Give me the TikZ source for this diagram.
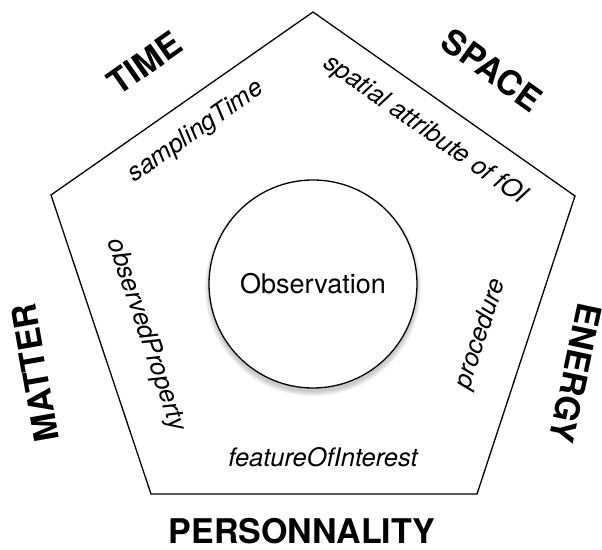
\documentclass[tikz,border=0pt]{standalone}
\usepackage{fontspec}
\setmainfont{TeX Gyre Heros}
\begin{document}
\begin{tikzpicture}[x=1pt,y=1pt,
  edge/.style={draw=black, line width=1.3pt, line join=miter},
  biglabel/.style={font=\fontsize{34}{40}\selectfont\bfseries, inner sep=0pt},
  attr/.style={font=\fontsize{25.5}{30}\selectfont\itshape, inner sep=0pt},
  obsnode/.style={circle, draw=black, line width=1.3pt, fill=white, minimum size=208pt, inner sep=0pt, font=\fontsize{27}{31}\selectfont}]
\useasboundingbox (0,0) rectangle (602,549);
\fill[white] (0,0) rectangle (602,549);
% pentagon
\coordinate (T) at (313,537);
\coordinate (R) at (575,353);
\coordinate (BR) at (477,55);
\coordinate (BL) at (151,55);
\coordinate (L) at (51,354);
\draw[edge] (T) -- (R) -- (BR) -- (BL) -- (L) -- cycle;
% soft shadow of the circle
\foreach \i in {1,...,6}{
  \fill[black, opacity=0.035] (313,261) circle ({103+\i*0.9});
}
\node[obsnode] (obs) at (313,265) {Observation};
% attribute labels
\node[attr, rotate=35] (samp) at (196,417) {samplingTime};
\node[attr, rotate=-35] (spat) at (425,419) {spatial attribute of fOI};
\node[attr, rotate=-71.5] (oprop) at (146,214) {observedProperty};
\node[attr, rotate=71.5] (proc) at (481,215) {procedure};
\node[attr] (foi) at (323,92) {featureOfInterest};
% category labels
\node[biglabel, rotate=35] (time) at (145,486) {TIME};
\node[biglabel, rotate=-36] (space) at (492,479) {SPACE};
\node[biglabel, rotate=100] (matter) at (35,176) {MATTER};
\node[biglabel, rotate=-102] (energy) at (576,176) {ENERGY};
\node[biglabel] (pers) at (302,18) {PERSONNALITY};
\end{tikzpicture}
\end{document}
